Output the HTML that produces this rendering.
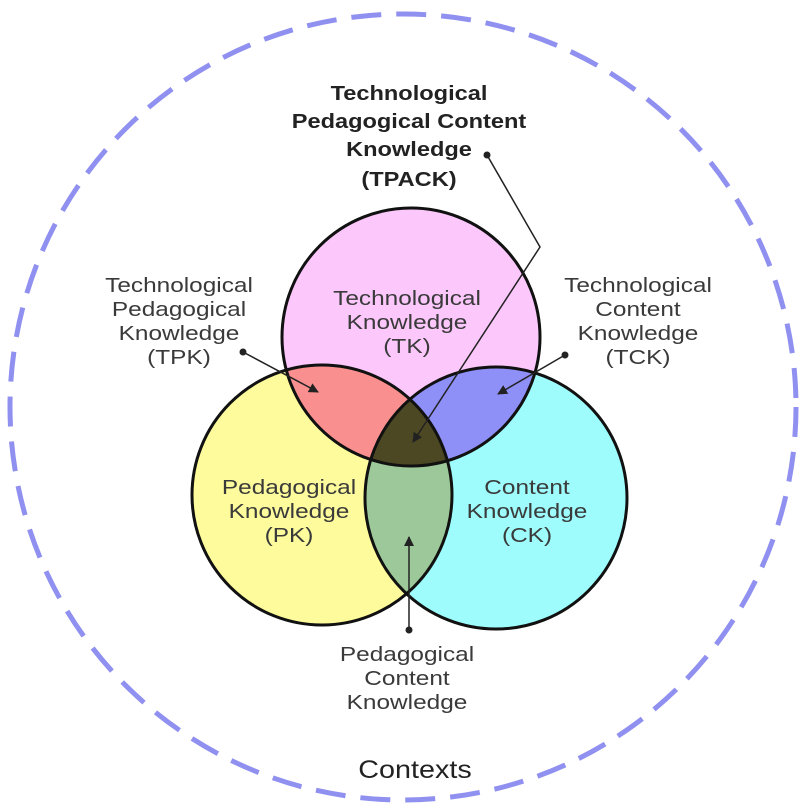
<!DOCTYPE html>
<html><head><style>
html,body{margin:0;padding:0;background:#fff;}
svg{display:block;}
text{font-family:"Liberation Sans",sans-serif;fill:#3a3a3a;}
</style></head><body>
<svg width="806" height="812" viewBox="0 0 806 812" xmlns="http://www.w3.org/2000/svg">
<defs>
<clipPath id="cT"><circle cx="411" cy="337" r="129"/></clipPath>
<clipPath id="cP"><circle cx="322" cy="495" r="130"/></clipPath>
<marker id="ah" markerWidth="10" markerHeight="10" refX="9" refY="5" orient="auto" markerUnits="userSpaceOnUse"><path d="M0,0 L10,5 L0,10 z" fill="#222"/></marker>
</defs>
<circle cx="403" cy="407" r="393" fill="none" stroke="#9090f0" stroke-width="5" stroke-dasharray="30 15"/>
<circle cx="411" cy="337" r="129" fill="#fcc8fc"/>
<circle cx="322" cy="495" r="130" fill="#fdfb9c"/>
<circle cx="496" cy="498" r="131" fill="#9efcfc"/>
<g clip-path="url(#cT)"><circle cx="322" cy="495" r="130" fill="#f98f8f"/><circle cx="496" cy="498" r="131" fill="#8f8ff8"/></g>
<g clip-path="url(#cP)"><circle cx="496" cy="498" r="131" fill="#9dc99a"/></g>
<g clip-path="url(#cT)"><g clip-path="url(#cP)"><circle cx="496" cy="498" r="131" fill="#4c4823"/></g></g>
<g fill="none" stroke="#111" stroke-width="3">
<circle cx="411" cy="337" r="129"/><circle cx="322" cy="495" r="130"/><circle cx="496" cy="498" r="131"/>
</g>
<g stroke="#222" stroke-width="1.5" fill="none">
<polyline points="487,155 540,247 413,442" marker-end="url(#ah)"/>
<line x1="243" y1="352" x2="318" y2="392" marker-end="url(#ah)"/>
<line x1="565" y1="355" x2="498" y2="394" marker-end="url(#ah)"/>
<line x1="409" y1="630" x2="409" y2="537" marker-end="url(#ah)"/>
</g>
<g fill="#222"><circle cx="487" cy="155" r="3.5"/><circle cx="243" cy="352" r="3.5"/><circle cx="565" cy="355" r="3.5"/><circle cx="409" cy="630" r="3.5"/></g>
<g font-size="20" font-weight="bold" text-anchor="middle">
<text transform="translate(409,100) scale(1.18,1)" style="fill:#222">Technological</text>
<text transform="translate(409,128) scale(1.18,1)" style="fill:#222">Pedagogical Content</text>
<text transform="translate(409,156) scale(1.18,1)" style="fill:#222">Knowledge</text>
<text transform="translate(409,186) scale(1.18,1)" style="fill:#222">(TPACK)</text>
</g>
<g font-size="20" text-anchor="middle">
<text transform="translate(407,305) scale(1.22,1)">Technological</text><text transform="translate(407,329) scale(1.22,1)">Knowledge</text><text transform="translate(407,353) scale(1.22,1)">(TK)</text>
<text transform="translate(289,494) scale(1.22,1)">Pedagogical</text><text transform="translate(289,518) scale(1.22,1)">Knowledge</text><text transform="translate(289,542) scale(1.22,1)">(PK)</text>
<text transform="translate(527,494) scale(1.22,1)">Content</text><text transform="translate(527,518) scale(1.22,1)">Knowledge</text><text transform="translate(527,542) scale(1.22,1)">(CK)</text>
<text transform="translate(179,292) scale(1.22,1)">Technological</text><text transform="translate(179,316) scale(1.22,1)">Pedagogical</text><text transform="translate(179,340) scale(1.22,1)">Knowledge</text><text transform="translate(179,364) scale(1.22,1)">(TPK)</text>
<text transform="translate(638,292) scale(1.22,1)">Technological</text><text transform="translate(638,316) scale(1.22,1)">Content</text><text transform="translate(638,340) scale(1.22,1)">Knowledge</text><text transform="translate(638,364) scale(1.22,1)">(TCK)</text>
<text transform="translate(407,661) scale(1.22,1)">Pedagogical</text><text transform="translate(407,685) scale(1.22,1)">Content</text><text transform="translate(407,709) scale(1.22,1)">Knowledge</text>
</g>
<text transform="translate(415,778) scale(1.15,1)" font-size="25" text-anchor="middle" style="fill:#222">Contexts</text>
</svg>
</body></html>
